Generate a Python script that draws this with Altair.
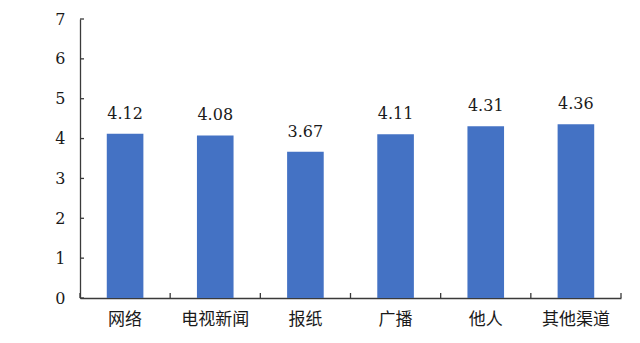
import altair as alt
import pandas as pd

# Average score per information channel
channels = ["网络", "电视新闻", "报纸", "广播", "他人", "其他渠道"]
scores = [4.12, 4.08, 3.67, 4.11, 4.31, 4.36]
y_ticks = [0, 1, 2, 3, 4, 5, 6, 7]

df = pd.DataFrame({"channel": channels, "score": scores})
tick_df = pd.DataFrame({"v": y_ticks})
bound_df = pd.DataFrame({"b": list(range(len(channels) + 1))})

W, H = 541, 279
AXIS_COLOR = "#3a3a3a"
TEXT_COLOR = "#1a1a1a"
CJK = "Noto Sans CJK SC"
NUM = "'DejaVu Serif', 'Liberation Serif', serif"

x_scale = alt.Scale(paddingInner=0.594, paddingOuter=0.297)
x_axis = alt.Axis(
    title=None, labelAngle=0, ticks=False, labelPadding=13,
    labelFont=CJK, labelFontSize=17, labelColor=TEXT_COLOR,
    domainColor=AXIS_COLOR, domainWidth=1.3,
)
y_scale = alt.Scale(domain=[0, 7], nice=False)
y_axis = alt.Axis(
    title=None, values=y_ticks, grid=False, ticks=False, labelPadding=15,
    labelFont=NUM, labelFontSize=16, labelColor=TEXT_COLOR,
    domainColor=AXIS_COLOR, domainWidth=1.3, format="d",
)

bars = alt.Chart(df).mark_bar(color="#4472C4").encode(
    x=alt.X("channel:N", sort=channels, scale=x_scale, axis=x_axis),
    y=alt.Y("score:Q", scale=y_scale, axis=y_axis),
)

labels = alt.Chart(df).mark_text(
    font=NUM, fontSize=16, color=TEXT_COLOR, baseline="middle", dy=-20
).encode(
    x=alt.X("channel:N", sort=channels, scale=x_scale, axis=x_axis),
    y=alt.Y("score:Q", scale=y_scale, axis=y_axis),
    text=alt.Text("score:Q", format=".2f"),
)

# inward tick marks on the value axis
y_tick_marks = alt.Chart(tick_df).mark_rule(color=AXIS_COLOR, strokeWidth=1.3).encode(
    y=alt.Y("v:Q", scale=y_scale, axis=y_axis),
    x=alt.value(0),
    x2=alt.value(4),
)

main = alt.layer(bars, labels, y_tick_marks)

# inward tick marks at the category boundaries
x_tick_marks = alt.Chart(bound_df).mark_rule(color=AXIS_COLOR, strokeWidth=1.3).encode(
    x=alt.X("b:Q", scale=alt.Scale(domain=[0, len(channels)], nice=False), axis=None),
    y=alt.value(H - 5),
    y2=alt.value(H),
)

chart = (
    alt.layer(main, x_tick_marks)
    .resolve_scale(x="independent")
    .properties(
        width=W,
        height=H,
        autosize=alt.AutoSizeParams(type="none"),
        padding={"left": 80, "top": 19, "right": 19, "bottom": 45},
        background="white",
    )
    .configure_view(stroke=None)
)

chart.save("out.html", embed_options={"renderer": "svg", "actions": False})
